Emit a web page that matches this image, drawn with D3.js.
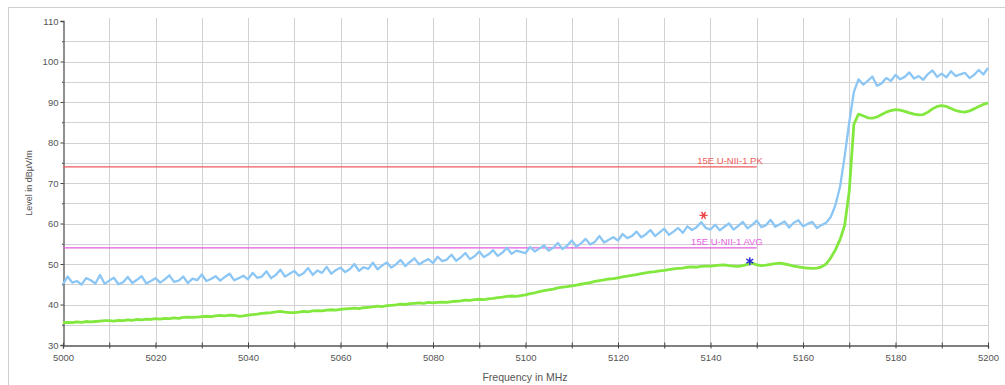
<!DOCTYPE html>
<html>
<head>
<meta charset="utf-8">
<script src="https://cdn.jsdelivr.net/npm/d3@7"></script>
<style>
  html, body { margin: 0; padding: 0; background: #fff; }
  svg { display: block; font-family: "Liberation Sans", Arial, sans-serif; }
</style>
</head>
<body>
<svg id="chart" width="1005" height="385"></svg>
<script>
// Sweep: 5000–5200 MHz at 1 MHz steps
const freqStart = 5000;
const freqStep = 1;

// Peak detector trace, dBµV/m
const peakLevels = [
  45.0, 46.9, 45.4, 45.8, 44.9, 46.5, 46.0, 45.2, 47.3, 45.1,
  45.9, 46.6, 45.0, 45.5, 46.8, 45.3, 46.1, 47.0, 45.2, 45.8,
  46.5, 45.4, 46.2, 47.2, 45.6, 45.9, 46.9, 45.3, 46.4, 46.0,
  47.4, 45.8, 46.3, 47.0, 45.9, 46.8, 47.6, 46.0, 46.5, 47.1,
  46.2, 47.8, 46.6, 46.9, 48.2, 46.5, 47.3, 48.6, 46.9, 47.6,
  48.3, 47.1, 47.7, 49.0, 47.3, 48.4, 47.8, 49.3, 47.6, 48.5,
  49.1, 48.0, 48.7, 50.0, 48.3, 49.2, 48.8, 50.3, 48.7, 49.6,
  50.4, 49.1, 49.9, 51.0, 49.5, 50.5, 51.4, 49.9, 50.6, 51.2,
  50.2, 51.8, 50.7, 51.1, 52.3, 50.8, 51.6, 52.7, 51.2, 51.9,
  53.1, 51.7, 52.4, 53.4, 52.0, 52.8, 54.0, 52.5, 53.3, 53.0,
  52.7, 54.2, 53.1, 53.8, 54.6, 53.3, 54.0, 55.2, 53.7, 54.5,
  55.8, 54.3, 55.1, 56.2, 54.8, 55.5, 56.9, 55.3, 56.0, 56.6,
  55.8, 57.4, 56.4, 56.9, 58.0, 56.6, 57.3, 58.4, 56.9, 57.8,
  58.7, 57.2, 58.0, 58.9, 57.7, 59.3, 58.4, 59.1, 60.3, 58.9,
  58.5, 59.7, 58.3, 59.2, 60.0, 58.5, 59.4, 60.4, 58.8, 59.6,
  60.7, 59.1, 59.6, 60.9, 59.2, 59.8, 60.5, 59.0, 60.2, 60.8,
  59.3, 59.9, 60.4, 58.9, 59.6, 60.2, 61.6, 64.5, 69.0, 76.5,
  85.0, 92.5, 95.6, 94.3, 95.2, 96.3, 94.0, 94.6, 95.9, 95.2,
  96.7, 95.6, 96.2, 97.3, 95.8, 96.4, 95.5, 96.9, 97.8, 96.2,
  97.0, 96.1, 97.6, 96.4, 96.8, 97.2, 95.9, 96.7, 97.9, 96.8,
  98.4
];

// Average detector trace, dBµV/m
const avgLevels = [
  35.5, 35.6, 35.5, 35.7, 35.6, 35.8, 35.7, 35.8, 35.9, 36.0,
  36.0, 35.9, 36.1, 36.0, 36.2, 36.1, 36.3, 36.2, 36.4, 36.3,
  36.5, 36.4, 36.6, 36.5, 36.7, 36.6, 36.8, 36.9, 36.8, 36.9,
  37.0, 37.1, 37.0, 37.2, 37.3, 37.2, 37.4, 37.3, 37.1, 37.2,
  37.4, 37.5, 37.6, 37.8, 37.9, 38.0, 38.2, 38.3, 38.1, 38.0,
  38.0, 38.1, 38.3, 38.2, 38.4, 38.5, 38.4, 38.6, 38.7, 38.6,
  38.8, 38.9, 39.0, 39.1, 39.0, 39.2, 39.3, 39.4, 39.6, 39.5,
  39.7, 39.8, 39.9, 40.1, 40.0, 40.2, 40.3, 40.4, 40.3, 40.5,
  40.4, 40.5, 40.6, 40.5, 40.7, 40.8, 40.9, 41.1, 41.0, 41.2,
  41.3, 41.2, 41.4, 41.5, 41.7, 41.8, 42.0, 42.1, 42.0, 42.2,
  42.4, 42.7, 42.9, 43.2, 43.4, 43.6, 43.8, 44.1, 44.3, 44.4,
  44.6, 44.8, 45.0, 45.2, 45.4, 45.7, 45.9, 46.1, 46.3, 46.4,
  46.6, 46.8, 47.0, 47.2, 47.4, 47.6, 47.8, 48.0, 48.1, 48.3,
  48.4, 48.6, 48.8, 48.9, 49.0, 49.2, 49.3, 49.2, 49.4, 49.5,
  49.5, 49.6, 49.7, 49.8, 49.6, 49.5, 49.4, 49.6, 49.9, 50.2,
  49.8, 49.6, 49.7, 49.9, 50.1, 50.2, 50.0, 49.8, 49.5, 49.3,
  49.1, 49.0, 48.9, 49.0, 49.3, 50.0, 51.5, 53.5, 56.0, 59.5,
  68.0, 84.5, 87.0, 86.6, 86.1, 86.0, 86.3, 86.9, 87.5, 87.9,
  88.1, 88.0, 87.7, 87.3, 87.0, 86.8, 86.9, 87.5, 88.3, 88.9,
  89.1, 88.9, 88.4, 87.9, 87.6, 87.5, 87.8, 88.3, 88.9, 89.4,
  89.8
];

// Limit lines
const limitNames = ["15E U-NII-1 PK", "15E U-NII-1 AVG"];
const limitLevels = [74, 54];
const limitFreqs = [5000, 5150];

// Marker readouts [MHz, dBµV/m]
const markerFreqs = [5138.5, 5148.5];
const markerLevels = [62.0, 50.7];

// Axis ticks
const xTickLabels = [5000, 5020, 5040, 5060, 5080, 5100, 5120, 5140, 5160, 5180, 5200];
const yTickLabels = [30, 40, 50, 60, 70, 80, 90, 100, 110];

const svg = d3.select("#chart");
const plotLeft = 63, plotRight = 988, plotTop = 21, plotBottom = 345;

const x = d3.scaleLinear().domain([5000, 5200]).range([plotLeft, plotRight]);
const y = d3.scaleLinear().domain([30, 110]).range([plotBottom, plotTop]);

// Outer frame
svg.append("rect")
  .attr("x", 8.5).attr("y", 7.5)
  .attr("width", 1000).attr("height", 420)
  .attr("fill", "none").attr("stroke", "#cfcfcf");

// Grid
const grid = svg.append("g");
grid.selectAll("line.v")
  .data(d3.range(5010, 5201, 10))
  .join("line")
  .attr("x1", d => Math.round(x(d)) + 0.5).attr("x2", d => Math.round(x(d)) + 0.5)
  .attr("y1", plotTop - 3).attr("y2", plotBottom)
  .attr("stroke", "#d2d2d2");
grid.selectAll("line.h")
  .data(d3.range(35, 106, 5))
  .join("line")
  .attr("x1", plotLeft).attr("x2", plotRight)
  .attr("y1", d => Math.round(y(d)) + 0.5).attr("y2", d => Math.round(y(d)) + 0.5)
  .attr("stroke", "#d2d2d2");

// Axes
const xAxis = d3.axisBottom(x)
  .tickValues(d3.range(5000, 5201, 10))
  .tickSize(3)
  .tickFormat(d => xTickLabels.includes(d) ? d : "");
const gx = svg.append("g").attr("transform", `translate(0,${plotBottom + 0.5})`).call(xAxis);
gx.select(".domain").attr("stroke", "#555").attr("stroke-width", 1.3);
gx.selectAll(".tick line").attr("stroke", "#444").attr("y1", -3);
gx.selectAll(".tick text").attr("fill", "#555").attr("font-size", 9.5).attr("dy", "1.05em");

const yAxis = d3.axisLeft(y)
  .tickValues(d3.range(30, 111, 5))
  .tickSize(3)
  .tickFormat(d => yTickLabels.includes(d) ? d : "");
const gy = svg.append("g").attr("transform", `translate(${plotLeft + 0.5},0)`).call(yAxis);
gy.select(".domain").attr("stroke", "#555").attr("stroke-width", 1.3);
gy.selectAll(".tick line").attr("stroke", "#444").attr("x2", d => yTickLabels.includes(d) ? -3 : -1.5);
gy.selectAll(".tick text").attr("fill", "#555").attr("font-size", 9.5).attr("dx", "0.1em");

// Axis titles
svg.append("text")
  .attr("x", 525).attr("y", 381)
  .attr("text-anchor", "middle")
  .attr("font-size", 10.5).attr("fill", "#555")
  .text("Frequency in MHz");
svg.append("text")
  .attr("transform", "translate(32,183) rotate(-90)")
  .attr("text-anchor", "middle")
  .attr("font-size", 9).attr("fill", "#555")
  .text("Level in dBµV/m");

// Limit lines with their labels
const limitColors = ["#ee5b5b", "#e45ee0"];
limitLevels.forEach((lv, i) => {
  svg.append("line")
    .attr("x1", x(limitFreqs[0])).attr("x2", x(limitFreqs[1]))
    .attr("y1", y(lv)).attr("y2", y(lv))
    .attr("stroke", limitColors[i]).attr("stroke-width", 1.2);
  svg.append("text")
    .attr("x", x(limitFreqs[1]) + 6).attr("y", y(lv) - 3)
    .attr("text-anchor", "end")
    .attr("font-size", 9.5).attr("fill", limitColors[i])
    .text(limitNames[i]);
});

// Traces
const freqs = peakLevels.map((_, i) => freqStart + i * freqStep);
const line = d3.line().x((d, i) => x(freqs[i])).y(d => y(d));

svg.append("path")
  .datum(avgLevels)
  .attr("d", line)
  .attr("fill", "none")
  .attr("stroke", "#82e83e")
  .attr("stroke-width", 2.8)
  .attr("stroke-linejoin", "round");

svg.append("path")
  .datum(peakLevels)
  .attr("d", line)
  .attr("fill", "none")
  .attr("stroke", "#8cc6f4")
  .attr("stroke-width", 2.3)
  .attr("stroke-linejoin", "round");

// Markers
const markerColors = ["#ee4444", "#2a2ad8"];
const markerRot = [90, 0];
const sym = d3.symbol().type(d3.symbolAsterisk).size(45);
markerFreqs.forEach((f, i) => {
  svg.append("path")
    .attr("d", sym())
    .attr("transform", `translate(${x(f)},${y(markerLevels[i])}) rotate(${markerRot[i]})`)
    .attr("fill", "none")
    .attr("stroke", markerColors[i])
    .attr("stroke-width", 1.4);
});
</script>
</body>
</html>
